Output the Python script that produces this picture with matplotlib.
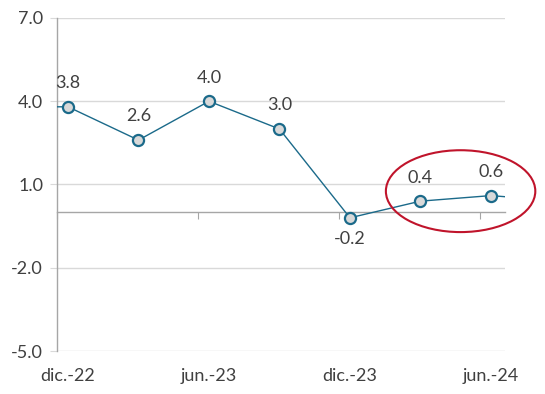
import matplotlib
matplotlib.use("Agg")
import matplotlib.pyplot as plt
from matplotlib.patches import Ellipse
import numpy as np

plt.rcParams['font.family'] = ['Lato', 'DejaVu Sans']

# Data
periods = ["dic.-22", "mar.-23", "jun.-23", "sep.-23", "dic.-23", "mar.-24", "jun.-24"]
values = [3.8, 2.6, 4.0, 3.0, -0.2, 0.4, 0.6]
label_periods = ["dic.-22", "jun.-23", "dic.-23", "jun.-24"]
prev_value = 3.8   # line continues off the left edge
next_value = 0.4   # line continues off the right edge
y_ticks = [-5.0, -2.0, 1.0, 4.0, 7.0]

line_color = "#1B6A8A"
marker_face = "#D9D9D9"
text_color = "#404040"
grid_color = "#D9D9D9"
axis_color = "#A6A6A6"
ellipse_color = "#C0142B"
fs = 13

fig = plt.figure(figsize=(5.45, 3.94), dpi=100)
ax = fig.add_axes([57/545, 1 - 351/394, (505 - 57)/545, (351 - 18)/394])

x = np.arange(len(values))
x_ext = np.concatenate([[-1], x, [len(values)]])
y_ext = np.concatenate([[prev_value], values, [next_value]])
ax.plot(x_ext, y_ext, color=line_color, lw=1.0, zorder=3)
ax.plot(x, values, ls="none", marker="o", ms=8, mfc=marker_face, mec=line_color,
        mew=1.6, zorder=4)

for xi, v in zip(x, values):
    off = -15 if v < 0 else 17
    ax.annotate(f"{v:.1f}", (xi, v), xytext=(0, off), textcoords="offset points",
                ha="center", va="center", fontsize=fs, color=text_color, zorder=5)

xmin = -0.156
xmax = len(values) - 1 + 0.2
ax.set_xlim(xmin, xmax)
ax.set_ylim(-5, 7)

ax.set_yticks(y_ticks)
ax.set_yticklabels([f"{t:.1f}" for t in y_ticks])
ax.grid(axis="y", color=grid_color, lw=1.0)
ax.set_axisbelow(True)

label_pos = [periods.index(p) for p in label_periods]
ax.set_xticks(label_pos)
ax.set_xticklabels(label_periods)
ax.tick_params(axis="x", length=0, pad=12, labelsize=fs, labelcolor=text_color)
ax.tick_params(axis="y", length=5, color=grid_color, pad=5, labelsize=fs,
               labelcolor=text_color)

for s in ["top", "right", "bottom"]:
    ax.spines[s].set_visible(False)
ax.spines["left"].set_color(axis_color)
ax.spines["left"].set_linewidth(1.0)

# zero axis line with tick marks
sec = ax.secondary_xaxis(0, transform=ax.transData)
sec.spines["bottom"].set_color(axis_color)
sec.spines["bottom"].set_linewidth(1.0)
sec.set_xticks(np.arange(xmin, xmax, 2.0))
sec.set_xticklabels([])
sec.tick_params(axis="x", length=5, color=axis_color, direction="out")

# highlight ellipse
ell = Ellipse((5.57, 0.76), width=2.12, height=2.95, fill=False,
              edgecolor=ellipse_color, lw=1.5, clip_on=False, zorder=6)
ax.add_patch(ell)

fig.savefig("out.png", dpi=100)
